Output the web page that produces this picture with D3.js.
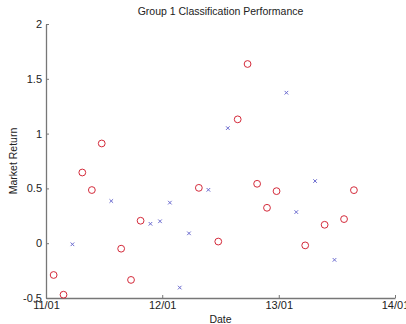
<!DOCTYPE html>
<html>
<head>
<meta charset="utf-8">
<script src="https://cdn.jsdelivr.net/npm/d3@7"></script>
<style>
  body { margin: 0; background: #fff; }
  svg text { font-family: "Liberation Sans", Arial, sans-serif; fill: #222; }
</style>
</head>
<body>
<div id="chart"></div>
<script>
// one point per month, Jan 2011 .. Aug 2013
const months = [
  '2011-01','2011-02','2011-03','2011-04','2011-05','2011-06','2011-07','2011-08',
  '2011-09','2011-10','2011-11','2011-12','2012-01','2012-02','2012-03','2012-04',
  '2012-05','2012-06','2012-07','2012-08','2012-09','2012-10','2012-11','2012-12',
  '2013-01','2013-02','2013-03','2013-04','2013-05','2013-06','2013-07','2013-08'
];
const returns = [
  -0.29, -0.47, -0.01, 0.645, 0.485, 0.91, 0.385, -0.05,
  -0.335, 0.205, 0.177, 0.20, 0.37, -0.405, 0.09, 0.505,
  0.487, 0.015, 1.05, 1.13, 1.635, 0.542, 0.323, 0.475,
  1.373, 0.284, -0.02, 0.567, 0.168, -0.152, 0.22, 0.484
];
// 'o' = red circle, 'x' = blue cross
const marker = [
  'o','o','x','o','o','o','x','o',
  'o','o','x','x','x','x','x','o',
  'x','o','x','o','o','o','o','o',
  'x','x','o','x','o','x','o','o'
];
const xTicks = ['2011-01','2012-01','2013-01','2014-01'];
const yTicks = [-0.5, 0, 0.5, 1, 1.5, 2];

const width = 406, height = 324;
const margin = { top: 24, right: 11, bottom: 26, left: 46 };
const parseMonth = d3.timeParse('%Y-%m');
const pointDate = m => d3.timeDay.offset(parseMonth(m), 24);

const data = months.map((m, i) => ({ date: pointDate(m), value: returns[i], mark: marker[i] }));

const svg = d3.select('#chart').append('svg')
  .attr('width', width)
  .attr('height', height);

const x = d3.scaleTime()
  .domain([parseMonth(xTicks[0]), parseMonth(xTicks[xTicks.length - 1])])
  .range([margin.left, width - margin.right]);

const y = d3.scaleLinear()
  .domain([-0.5, 2])
  .range([height - margin.bottom, margin.top]);

// axes (MATLAB style: ticks pointing in, box off)
const xAxis = svg.append('g')
  .attr('transform', `translate(0,${height - margin.bottom})`)
  .call(d3.axisBottom(x)
    .tickValues(xTicks.map(parseMonth))
    .tickFormat(d3.timeFormat('%y/%m'))
    .tickSizeInner(-3).tickSizeOuter(0).tickPadding(5));

const yAxis = svg.append('g')
  .attr('transform', `translate(${margin.left},0)`)
  .call(d3.axisLeft(y)
    .tickValues(yTicks)
    .tickFormat(d => `${d}`)
    .tickSizeInner(-3).tickSizeOuter(0).tickPadding(4));

[xAxis, yAxis].forEach(g => {
  g.select('.domain').attr('stroke', '#777').attr('stroke-width', 1.3);
  g.selectAll('.tick line').attr('stroke', '#777');
  g.selectAll('.tick text').style('font-size', '11px').style('fill', '#222');
});
xAxis.selectAll('.tick text').attr('dy', '0.55em');

// circles
svg.selectAll('.circ')
  .data(data.filter(d => d.mark === 'o'))
  .enter()
  .append('circle')
  .attr('class', 'circ')
  .attr('cx', d => x(d.date))
  .attr('cy', d => y(d.value))
  .attr('r', 3.4)
  .attr('fill', 'none')
  .attr('stroke', '#d42a3a')
  .attr('stroke-width', 1);

// crosses
const cross = 1.8;
svg.selectAll('.cross')
  .data(data.filter(d => d.mark === 'x'))
  .enter()
  .append('path')
  .attr('class', 'cross')
  .attr('d', d => {
    const cx = x(d.date), cy = y(d.value);
    return `M${cx - cross},${cy - cross}L${cx + cross},${cy + cross}M${cx - cross},${cy + cross}L${cx + cross},${cy - cross}`;
  })
  .attr('stroke', '#6b6bcf')
  .attr('stroke-width', 1);

// title and labels
svg.append('text')
  .attr('x', (margin.left + width - margin.right) / 2)
  .attr('y', 15)
  .attr('text-anchor', 'middle')
  .style('font-size', '10.5px')
  .text('Group 1 Classification Performance');

svg.append('text')
  .attr('x', (margin.left + width - margin.right) / 2)
  .attr('y', 323)
  .attr('text-anchor', 'middle')
  .style('font-size', '10.5px')
  .text('Date');

svg.append('text')
  .attr('transform', `translate(17,${(margin.top + height - margin.bottom) / 2}) rotate(-90)`)
  .attr('text-anchor', 'middle')
  .style('font-size', '10.5px')
  .text('Market Return');
</script>
</body>
</html>
